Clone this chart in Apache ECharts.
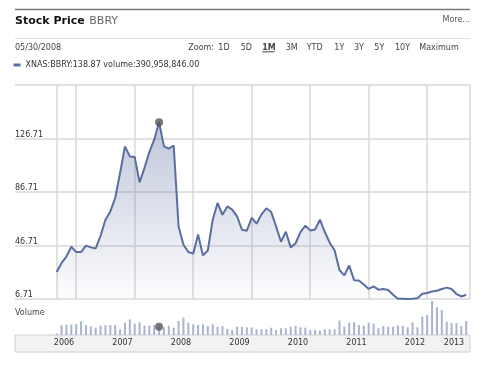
<!DOCTYPE html>
<html><head><meta charset="utf-8">
<script src="https://cdn.jsdelivr.net/npm/echarts@6/dist/echarts.min.js"></script>
<style>html,body{margin:0;padding:0;background:#fff}#c{width:480px;height:377px}</style>
</head><body><div id="c"></div>
<script>
// ---- data ----
const months = [
  '2006-08','2006-09','2006-10','2006-11','2006-12',
  '2007-01','2007-02','2007-03','2007-04','2007-05','2007-06','2007-07','2007-08','2007-09','2007-10','2007-11','2007-12',
  '2008-01','2008-02','2008-03','2008-04','2008-05','2008-06','2008-07','2008-08','2008-09','2008-10','2008-11','2008-12',
  '2009-01','2009-02','2009-03','2009-04','2009-05','2009-06','2009-07','2009-08','2009-09','2009-10','2009-11','2009-12',
  '2010-01','2010-02','2010-03','2010-04','2010-05','2010-06','2010-07','2010-08','2010-09','2010-10','2010-11','2010-12',
  '2011-01','2011-02','2011-03','2011-04','2011-05','2011-06','2011-07','2011-08','2011-09','2011-10','2011-11','2011-12',
  '2012-01','2012-02','2012-03','2012-04','2012-05','2012-06','2012-07','2012-08','2012-09','2012-10','2012-11','2012-12',
  '2013-01','2013-02','2013-03','2013-04','2013-05','2013-06','2013-07','2013-08'
];
const prices = [
  26.9, 33.6, 38.6, 45.8, 41.8,
  41.8, 46.6, 45.3, 44.5, 54.0, 66.0, 72.2, 82.2, 100.9, 120.8, 113.3, 112.9,
  93.9, 104.6, 116.6, 125.8, 138.87, 120.8, 119.1, 121.5, 61.0, 47.3, 41.8, 40.6,
  55.0, 39.3, 43.0, 66.0, 78.5, 69.7, 75.9, 73.5, 68.5, 58.5, 57.8, 67.3,
  63.0, 70.0, 74.5, 71.7, 61.0, 49.5, 57.0, 45.3, 48.4, 56.7, 61.5, 58.0,
  58.7, 66.0, 56.8, 48.8, 43.2, 28.4, 24.4, 31.8, 20.8, 20.5, 17.5, 14.2,
  16.1, 13.7, 14.2, 13.5, 9.9, 6.9, 6.9, 6.75, 6.9, 7.2, 10.7, 11.2,
  12.4, 12.9, 14.2, 15.2, 14.2, 10.4, 8.6, 9.9
];
// volume in millions of shares
const volumes = [
  71, 457, 485, 485, 518,
  645, 471, 410, 344, 438, 457, 471, 471, 268, 579, 739, 532,
  598, 438, 438, 471, 390.958846, 363, 438, 344, 659, 815, 579, 504,
  471, 504, 424, 518, 391, 424, 283, 236, 391, 391, 363, 363,
  268, 268, 268, 344, 236, 316, 316, 391, 438, 363, 344, 236,
  236, 203, 268, 268, 268, 674, 391, 579, 598, 471, 438, 579,
  532, 316, 424, 391, 391, 438, 438, 363, 598, 363, 862, 942,
  1601, 1305, 1178, 626, 551, 565, 424, 659
];
const yTicks = [6.71, 46.71, 86.71, 126.71, 166.71];
const volumeMax = 1600;
const hoverIndex = 21;
const hoverDate = '05/30/2008';
const ticker = 'BBRY';
const seriesName = 'XNAS:BBRY';
const zoomLabels = ['1D','5D','1M','3M','YTD','1Y','3Y','5Y','10Y','Maximum'];

// ---- chart ----
const FONT = 'DejaVu Sans';
const GRID = '#d9d9d9';
const LINE = '#5a6e9f';
const dataLeft = 56.7, dataWidth = 409.5;

function fmtVol(m) {
  const n = Math.round(m * 1e6);
  return n.toString().replace(/\B(?=(\d{3})+(?!\d))/g, ',') + '.00';
}

const zoomX = [218.3, 240.7, 262.3, 285.7, 306.7, 334.3, 354, 374.3, 395, 419.3];
const graphics = [
  {type:'line', shape:{x1:15,y1:9.5,x2:470,y2:9.5}, style:{stroke:'#7a7a7a', lineWidth:1.5}},
  {type:'text', x:15, y:21.5, style:{text:'Stock Price', font:'bold 11px "' + FONT + '"', fill:'#111', verticalAlign:'middle'}},
  {type:'text', x:89.3, y:21.5, style:{text:ticker, font:'11px "' + FONT + '"', fill:'#666', verticalAlign:'middle'}},
  {type:'text', x:470, y:20, style:{text:'More...', font:'8px "' + FONT + '"', fill:'#555', align:'right', verticalAlign:'middle'}},
  {type:'line', shape:{x1:15,y1:38.5,x2:470,y2:38.5}, style:{stroke:'#dddddd', lineWidth:1}},
  {type:'text', x:15, y:47.5, style:{text:hoverDate, font:'8px "' + FONT + '"', fill:'#444', verticalAlign:'middle'}},
  {type:'text', x:188.3, y:47.5, style:{text:'Zoom:', font:'8px "' + FONT + '"', fill:'#444', verticalAlign:'middle'}},
  {type:'line', shape:{x1:262.3,y1:51.8,x2:274.5,y2:51.8}, style:{stroke:'#444', lineWidth:1}},
  {type:'text', x:15, y:313, style:{text:'Volume', font:'8px "' + FONT + '"', fill:'#444', verticalAlign:'middle'}}
];
zoomLabels.forEach((z, i) => {
  graphics.push({type:'text', x:zoomX[i], y:47.5, style:{text:z,
    font:(z === '1M' ? 'bold ' : '') + '8px "' + FONT + '"', fill:'#444', verticalAlign:'middle'}});
});

const chart = echarts.init(document.getElementById('c'), null, {renderer:'canvas'});
chart.setOption({
  animation: false,
  backgroundColor: '#fff',
  textStyle: {fontFamily: FONT},
  graphic: graphics,
  legend: {
    data: [seriesName], left: 13.5, top: 61, padding: 0, icon: 'rect',
    itemWidth: 7, itemHeight: 3, selectedMode: false,
    formatter: name => name + ':' + prices[hoverIndex].toFixed(2) + ' volume:' + fmtVol(volumes[hoverIndex]),
    textStyle: {fontSize: 8, color: '#333', fontFamily: FONT}
  },
  grid: [
    {left: 15, right: 10, top: 85, height: 214, outerBoundsMode: 'none'},
    {left: dataLeft, width: dataWidth, top: 85, height: 214, outerBoundsMode: 'none'},
    {left: dataLeft, width: dataWidth, top: 301, height: 34, outerBoundsMode: 'none'},
    {left: 15, right: 10, top: 335, height: 17, show: true, backgroundColor: '#f2f2f3',
     borderColor: '#d0d0d0', borderWidth: 1, outerBoundsMode: 'none'}
  ],
  xAxis: [
    {gridIndex: 0, type: 'value', min: 0, max: 1, show: false},
    {gridIndex: 1, type: 'category', data: months, boundaryGap: false,
     axisLine: {show: false}, axisTick: {show: false}, axisLabel: {show: false},
     splitLine: {show: true, interval: (i, v) => i === 0 || v.endsWith('-12'),
                 lineStyle: {color: GRID, width: 1.5}}},
    {gridIndex: 2, type: 'category', data: months, boundaryGap: false,
     axisLine: {show: false}, axisTick: {show: false}, splitLine: {show: false},
     axisLabel: {interval: (i, v) => v.endsWith('-12') || i === months.length - 1,
                 formatter: v => v.slice(0, 4), align: 'right', padding: [0, 2, 0, 0],
                 margin: 4, fontSize: 8, color: '#333', fontFamily: FONT}},
    {gridIndex: 3, type: 'value', show: false}
  ],
  yAxis: [
    {gridIndex: 0, type: 'value', min: yTicks[0], max: yTicks[yTicks.length - 1], interval: 40,
     axisLine: {show: false}, axisTick: {show: false},
     splitLine: {show: true, lineStyle: {color: GRID, width: 1.5}},
     axisLabel: {inside: true, margin: 0, verticalAlign: 'bottom', showMaxLabel: false,
                 formatter: v => v.toFixed(2), fontSize: 8, color: '#333', fontFamily: FONT}},
    {gridIndex: 0, type: 'value', position: 'right', min: yTicks[0], max: yTicks[yTicks.length - 1],
     axisLine: {show: true, lineStyle: {color: GRID, width: 1.5}}, axisTick: {show: false},
     axisLabel: {show: false}, splitLine: {show: false}},
    {gridIndex: 1, type: 'value', min: yTicks[0], max: yTicks[yTicks.length - 1], show: false},
    {gridIndex: 2, type: 'value', min: 0, max: volumeMax, show: false},
    {gridIndex: 3, type: 'value', show: false}
  ],
  series: [
    {name: seriesName, type: 'line', xAxisIndex: 1, yAxisIndex: 2, data: prices,
     symbol: 'none', silent: true, z: 3,
     lineStyle: {color: LINE, width: 2}, itemStyle: {color: LINE},
     areaStyle: {color: new echarts.graphic.LinearGradient(0, 0, 0, 1, [
       {offset: 0, color: 'rgba(90,108,158,0.55)'},
       {offset: 1, color: 'rgba(90,108,158,0.02)'}
     ])}},
    {name: 'hoverPrice', type: 'scatter', xAxisIndex: 1, yAxisIndex: 2,
     data: [[months[hoverIndex], prices[hoverIndex]]], symbolSize: 8, z: 5,
     itemStyle: {color: '#555'}, silent: true},
    {name: 'Volume', type: 'bar', xAxisIndex: 2, yAxisIndex: 3, data: volumes,
     barWidth: 2, itemStyle: {color: '#a9b3d2'}, silent: true},
    {name: 'hoverVolume', type: 'scatter', xAxisIndex: 2, yAxisIndex: 3,
     data: [[months[hoverIndex], volumes[hoverIndex]]], symbolSize: 8, z: 5,
     itemStyle: {color: '#555'}, silent: true}
  ]
});
</script></body></html>
